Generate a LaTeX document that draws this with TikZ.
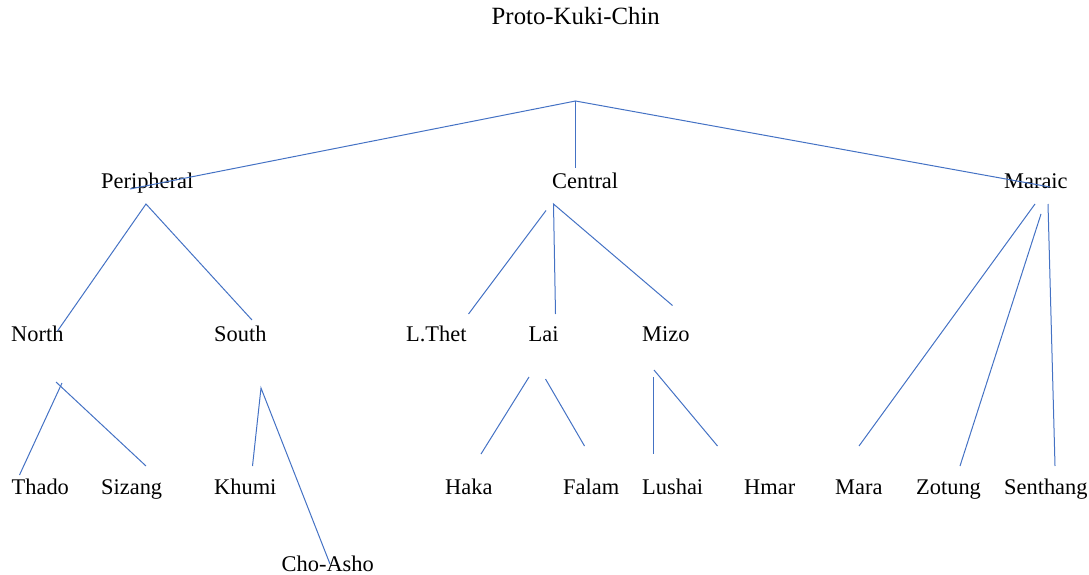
\documentclass[tikz,border=0pt]{standalone}
\usepackage{fontspec}
\setmainfont{Liberation Serif}
\definecolor{lineblue}{RGB}{68,114,196}
\begin{document}
\begin{tikzpicture}[x=1pt,y=-1pt,
  lab/.style={anchor=base west,inner sep=0pt,font=\fontsize{22.4}{26}\selectfont},
  ttl/.style={anchor=base west,inner sep=0pt,font=\fontsize{24.8}{28}\selectfont},
  br/.style={draw=lineblue,line width=1pt}]
\useasboundingbox (0,0) rectangle (1089,575);
% labels
\node[ttl] (pkc) at (491.5,25) {Proto-Kuki-Chin};
\node[lab] (per) at (101,188) {Peripheral};
\node[lab] (cen) at (552,188) {Central};
\node[lab] (mar) at (1004,188) {Maraic};
\node[lab] (nor) at (11,341) {North};
\node[lab] (sou) at (214,341) {South};
\node[lab] (lth) at (406,341) {L.Thet};
\node[lab] (lai) at (528.5,341) {Lai};
\node[lab] (miz) at (642,341) {Mizo};
\node[lab] (tha) at (11.5,494.5) {Thado};
\node[lab] (siz) at (101,494.5) {Sizang};
\node[lab] (khu) at (214,494.5) {Khumi};
\node[lab] (hak) at (445,494.5) {Haka};
\node[lab] (fal) at (563,494.5) {Falam};
\node[lab] (lus) at (642,494.5) {Lushai};
\node[lab] (hma) at (744,494.5) {Hmar};
\node[lab] (mara) at (835,494.5) {Mara};
\node[lab] (zot) at (916,494.5) {Zotung};
\node[lab] (sen) at (1004,494.5) {Senthang};
\node[lab] (cho) at (281.5,571) {Cho-Asho};
% branch points
\coordinate (r0) at (575.5,101);
\coordinate (r1) at (130,189);
\coordinate (r2) at (575.5,168);
\coordinate (r3) at (1050,187);
\coordinate (p0) at (146,204);
\coordinate (p1) at (57.5,331);
\coordinate (p2) at (252,320);
\coordinate (c0) at (553.5,204);
\coordinate (c1) at (546,210.5);
\coordinate (c2) at (468.5,314);
\coordinate (c3) at (555.5,314);
\coordinate (c4) at (672.5,305.5);
\coordinate (m0) at (1035,204);
\coordinate (m1) at (859,446);
\coordinate (m2) at (1041,214);
\coordinate (m3) at (960,466);
\coordinate (m4) at (1048,204);
\coordinate (m5) at (1055,466);
\coordinate (n0) at (62,383);
\coordinate (n1) at (19.5,475);
\coordinate (n2) at (56,382);
\coordinate (n3) at (146,466);
\coordinate (s0) at (261,388);
\coordinate (s1) at (252.5,466);
\coordinate (s2) at (330,564);
\coordinate (l0) at (529,377);
\coordinate (l1) at (481,454);
\coordinate (l2) at (545.5,379);
\coordinate (l3) at (584.5,446);
\coordinate (z0) at (653.5,377);
\coordinate (z1) at (653.5,454);
\coordinate (z2) at (654,370);
\coordinate (z3) at (717.5,446);
% connectors
\draw[br] (r1) -- (r0) -- (r3);
\draw[br] (r0) -- (r2);
\draw[br] (p1) -- (p0) -- (p2);
\draw[br] (c1) -- (c2);
\draw[br] (c3) -- (c0) -- (c4);
\draw[br] (m0) -- (m1);
\draw[br] (m2) -- (m3);
\draw[br] (m4) -- (m5);
\draw[br] (n0) -- (n1);
\draw[br] (n2) -- (n3);
\draw[br] (s1) -- (s0) -- (s2);
\draw[br] (l0) -- (l1);
\draw[br] (l2) -- (l3);
\draw[br] (z0) -- (z1);
\draw[br] (z2) -- (z3);
\end{tikzpicture}
\end{document}
